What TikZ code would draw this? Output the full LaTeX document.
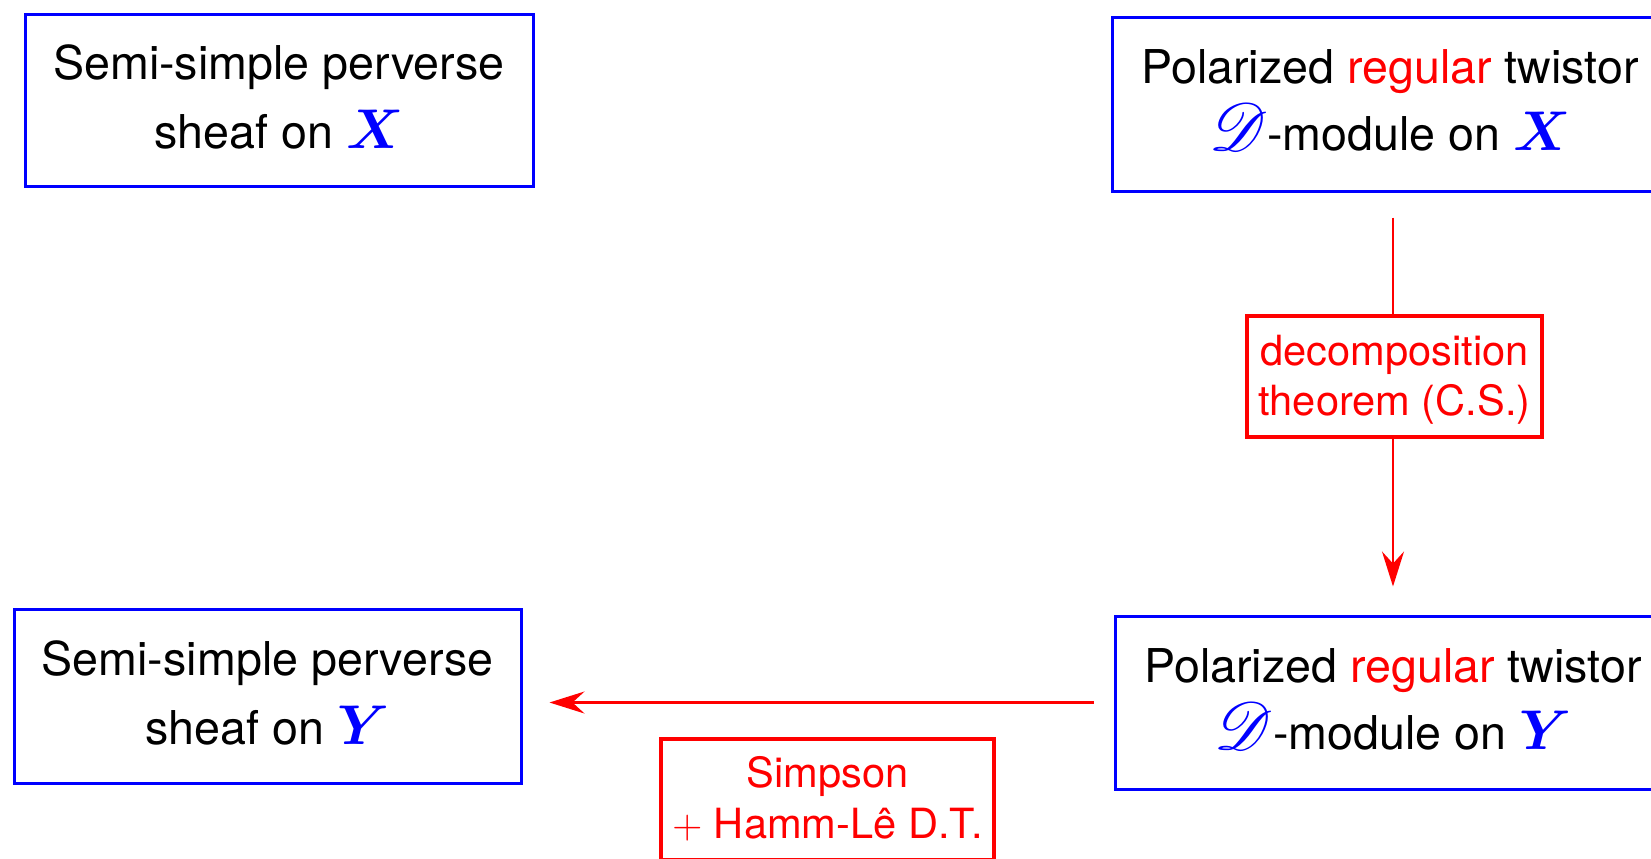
\RequirePackage{fix-cm}
\documentclass[tikz,border=0pt]{standalone}
\usepackage{graphicx}
\usepackage{fontspec}
\setmainfont{TeX Gyre Heros}
\usepackage{amsmath}
\usepackage{mathrsfs}
\usetikzlibrary{arrows.meta}
\newcommand{\bigmath}[1]{{\color{blue}\fontsize{28}{34}\selectfont$#1$}}
\newcommand{\scrD}{{\color{blue}\scalebox{1.35}{\fontsize{24}{34}\selectfont$\mathscr{D}$}}}
\begin{document}
\begin{tikzpicture}[x=0.5pt,y=-0.5pt,
  mainbox/.style={draw=blue, line width=1.5pt, align=center, inner sep=0pt, text=black},
  sheafbox/.style={mainbox, font=\fontsize{23.3}{34.5}\selectfont, text height=51.7pt},
  twistbox/.style={mainbox, font=\fontsize{23.3}{33.5}\selectfont, text height=50.7pt},
  labbox/.style={draw=red, fill=white, line width=1.6pt, align=center, inner sep=0pt, text=red},
  arr/.style={draw=red, line width=1.1pt, -{Stealth[length=17.5pt,width=11pt,inset=6pt]}}
]
\useasboundingbox (0,0) rectangle (1651,858);
\clip (0,0) rectangle (1651,858);
\node[sheafbox, text depth=3.7pt, minimum width=254pt, minimum height=86pt] (sx) at (279,100)
  {Semi-simple perverse\\ sheaf on \bigmath{\boldsymbol{X}}};
\node[twistbox, text depth=4.5pt, minimum width=278pt, minimum height=87pt] (tx) at (1390,104)
  {Polarized {\color{red}regular} twistor\\ \scrD-module on \bigmath{\boldsymbol{X}}};
\node[sheafbox, text depth=3.7pt, minimum width=253.5pt, minimum height=87pt] (sy) at (267.5,696)
  {Semi-simple perverse\\ sheaf on \bigmath{\boldsymbol{Y}}};
\node[twistbox, text depth=4.2pt, minimum width=278pt, minimum height=86.5pt] (ty) at (1393,702.5)
  {Polarized {\color{red}regular} twistor\\ \scrD-module on \bigmath{\boldsymbol{Y}}};
\draw[arr, shorten <=12.5pt, shorten >=14pt] (ty.north |- tx.south) -- (ty.north);
\node[labbox, font=\fontsize{20.8}{25}\selectfont, text height=40pt, text depth=1.5pt,
  minimum width=147.5pt, minimum height=60.5pt] (dt) at (1394.5,376.5)
  {decomposition\\ theorem (C.S.)};
\draw[arr, shorten <=10pt, shorten >=13.5pt] (ty.west) -- (ty.west -| sy.east);
\node[labbox, font=\fontsize{20.8}{25.5}\selectfont, text height=41pt, text depth=2.5pt,
  minimum width=166.5pt, minimum height=60.5pt] (hl) at (827.5,799.5)
  {Simpson\\ $+$ Hamm-Lê D.T.};
\end{tikzpicture}
\end{document}
